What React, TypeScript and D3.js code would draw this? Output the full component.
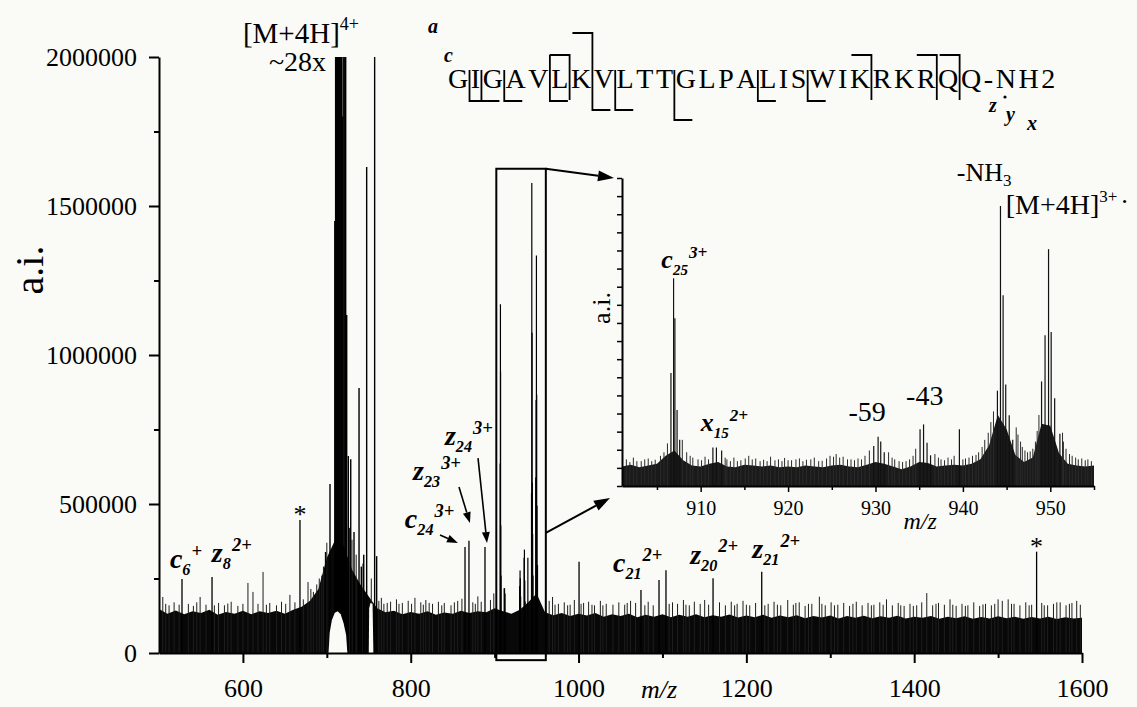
import * as d3 from "d3";
import React, { useEffect, useRef } from "react";

const W = 1137;
const H = 707;
const serif = "'Liberation Serif', 'Times New Roman', Times, serif";

// all intensities below are in thousands of counts (a.i. / 1000)

// solid noise floor of the main spectrum, one value every 10 m/z from 500 to 1600
const noiseFrom = 500;
const noiseStep = 10;
const noiseLevels = [
  148, 132, 143, 130, 140, 134, 145, 128, 138, 132, // 500-590
  142, 130, 140, 134, 142, 132, 145, 155, 175, 215, // 600-690
  320, 380, 360, 280, 230, 190, 150, 137, 142, 130, // 700-790
  138, 132, 140, 128, 136, 132, 142, 134, 140, 137, // 800-890
  150, 140, 132, 145, 170, 200, 137, 127, 134, 124, // 900-990
  132, 126, 134, 122, 130, 124, 132, 120, 128, 122, // 1000-1090
  130, 120, 128, 122, 130, 120, 127, 122, 129, 119, // 1100-1190
  126, 120, 128, 118, 126, 120, 127, 117, 124, 119, // 1200-1290
  126, 116, 124, 118, 125, 117, 123, 118, 125, 116, // 1300-1390
  122, 118, 124, 115, 122, 117, 123, 115, 121, 116, // 1400-1490
  123, 117, 122, 115, 121, 116, 122, 114, 120, 116, // 1500-1590
  118,
];

// small noise spikes sticking out of the floor [m/z, intensity]
const noiseSpikes: [number, number][] = [
  [504.5, 188], [508, 165], [512, 160], [518, 170], [524, 162], [535, 165], [541, 158], [545, 170],
  [549, 188], [556, 162], [566, 160], [571, 168], [578, 160], [582, 166], [586, 172], [594, 158],
  [600, 165], [606, 235], [612, 205], [618, 165], [624, 272], [628, 162], [632, 168], [640, 160],
  [646, 172], [651, 165], [656, 195], [662, 170], [672, 180], [677.6, 238], [681, 215], [684, 205],
  [688, 230], [691, 250], [694, 260], [696, 290], [700, 370], [727, 420], [730, 380], [735, 330],
  [743, 300], [753, 250], [762, 175], [765, 185], [768, 165], [772, 168], [776, 172], [783, 180],
  [786, 165], [790, 168], [797, 175], [801, 165], [805, 185], [812, 170], [815, 162], [818, 178],
  [822, 168], [826, 165], [833, 172], [837, 160], [840, 168], [848, 160], [852, 170], [856, 175],
  [861, 182], [874, 170], [877, 165], [880, 190], [884, 172], [895, 178], [899, 200], [965, 175],
  [969, 188], [972, 162], [976, 165], [983, 170], [987, 160], [990, 162], [995, 178], [1003, 165],
  [1006, 168], [1012, 172], [1016, 162], [1019, 160], [1026, 175], [1029, 160], [1033, 165],
  [1041, 162], [1048, 170], [1055, 162], [1058, 168], [1062, 175], [1068, 168], [1079, 160],
  [1083, 172], [1089, 160], [1108, 165], [1112, 170], [1118, 165], [1125, 178], [1128, 162],
  [1132, 160], [1138, 172], [1145, 165], [1150.3, 178], [1155, 162], [1168, 170], [1175, 160],
  [1182, 172], [1186, 160], [1189, 165], [1196, 175], [1200, 162], [1204, 160], [1211, 168],
  [1222, 160], [1226, 165], [1233, 172], [1237, 162], [1241, 160], [1249.3, 178], [1256, 162],
  [1259, 168], [1263, 170], [1270, 158], [1274, 165], [1278, 165], [1287, 189], [1290, 165],
  [1294, 160], [1301, 170], [1305, 160], [1309, 162], [1316, 168], [1323, 158], [1327, 165],
  [1331, 172], [1338, 160], [1345, 168], [1349, 160], [1352, 162], [1359, 170], [1363, 162],
  [1367, 180], [1374, 160], [1381, 168], [1384, 160], [1388, 158], [1395, 165], [1399, 158],
  [1403, 160], [1409, 170], [1415, 201], [1422, 160], [1426, 165], [1429, 168], [1436, 162],
  [1442.7, 180], [1446, 162], [1450, 158], [1457, 165], [1461, 158], [1464, 160], [1471, 170],
  [1478, 158], [1482, 163], [1485, 165], [1492, 160], [1496, 165], [1500, 180], [1505, 175],
  [1512, 180], [1516, 165], [1519, 165], [1526, 160], [1533, 170], [1537, 160], [1540, 162],
  [1552, 168], [1555, 160], [1559, 160], [1566, 165], [1570, 170], [1574, 170], [1581, 160],
  [1585, 165], [1588, 168], [1593.7, 175], [1598, 162],
];

// fragment and other single peaks [m/z, intensity]
const fragmentPeaks: [number, number][] = [
  [527.4, 248], [563.2, 255], [668, 446], [864.7, 356], [869.4, 377], [888.5, 356],
  [1000.6, 306], [1074.4, 211], [1095.9, 245], [1104.2, 278], [1160.3, 251],
  [1218.3, 273], [1545.9, 340],
];

// [M+4H]4+ region, off-scale values read as 2000 (top of the axis)
const precursorPeaks: [number, number][] = [
  [698.5, 339], [703.8, 567], [709.5, 1450], [710.5, 2000], [711.3, 2000], [712.0, 2000],
  [712.6, 2000], [713.3, 2000], [714.0, 2000], [714.9, 2000], [715.8, 2000], [716.7, 2000],
  [717.5, 2000], [718.4, 1800], [719.4, 2000], [720.5, 2000], [721.5, 2000], [722.5, 2000],
  [723.7, 1134], [725.6, 661], [728.5, 650], [732.4, 406], [738.4, 889], [741.1, 290],
  [744, 330], [747.5, 1631], [757, 2000], [759.4, 325],
];

// empty (white) areas under the precursor cluster [m/z, intensity]
const gapShapes: [number, number][][] = [
  [[702, 0], [703.5, 70], [706, 110], [709.5, 135], [713, 140], [716.5, 130], [720, 100], [723, 60], [724.5, 0]],
  [[750, 0], [750.5, 150], [752, 168], [754.5, 165], [755.5, 0]],
];

// zoomed window m/z 901-955
const insetNoiseFrom = 901;
const insetNoise = [
  110, 120, 105, 115, 125, 170, 200, 145, 115, 110, // 901-910
  125, 135, 110, 105, 120, 115, 110, 115, 105, 110, // 911-920
  105, 115, 110, 105, 115, 120, 110, 105, 120, 135, // 921-930
  125, 110, 95, 110, 135, 130, 110, 115, 120, 115, // 931-940
  125, 150, 230, 400, 320, 175, 135, 160, 350, 340, // 941-950
  185, 125, 115, 110, 115, // 951-955
];

const insetSpikes: [number, number][] = [
  [901.5, 150], [901.9, 135], [902.3, 160], [902.7, 140], [903.2, 140], [903.6, 150], [904, 155],
  [904.4, 140], [904.8, 148], [905.4, 170], [905.8, 190], [906.2, 240], [907.9, 260], [908.4, 190],
  [908.8, 170], [909.1, 160], [909.7, 150], [910.1, 145], [910.5, 165], [910.9, 150], [912.8, 160],
  [913, 150], [913.4, 140], [913.8, 160], [914.2, 140], [914.6, 145], [915.1, 155], [915.5, 170],
  [915.9, 150], [916.3, 155], [916.8, 140], [917.2, 148], [917.6, 140], [918, 165], [918.5, 145],
  [918.9, 150], [919.3, 140], [919.6, 158], [920, 145], [920.4, 145], [920.9, 150], [921.3, 155],
  [921.7, 140], [922.1, 148], [922.6, 150], [923, 160], [923.5, 140], [923.9, 142], [924.4, 155],
  [924.8, 170], [925.2, 165], [925.5, 180], [925.9, 160], [926.3, 165], [926.8, 150], [927.2, 150],
  [927.6, 145], [928, 155], [928.4, 150], [928.8, 170], [929.3, 200], [931.5, 190], [931.9, 160],
  [932.2, 150], [932.7, 140], [933.1, 135], [933.5, 140], [933.9, 150], [934.3, 170], [934.6, 210],
  [936.8, 180], [937.2, 160], [937.5, 150], [937.9, 145], [938.3, 160], [938.7, 150], [939, 170],
  [940, 150], [940.3, 155], [940.7, 160], [941.1, 170], [941.5, 175], [941.8, 190], [942.2, 220],
  [942.5, 260], [942.9, 300], [943.2, 360], [943.5, 420], [946.1, 330], [946.3, 290], [946.6, 250],
  [946.8, 220], [947.1, 200], [947.4, 190], [947.7, 195], [948, 210], [948.3, 250], [948.5, 310],
  [948.7, 400], [951.4, 300], [951.5, 250], [951.8, 210], [952.2, 180], [952.5, 170], [952.9, 160],
  [953.2, 150], [953.6, 155], [954, 145], [954.3, 150], [954.7, 140],
];

// resolved isotope peaks in the zoomed window (also drawn in the full spectrum)
const insetPeaks: [number, number][] = [
  [906.6, 636], [906.9, 1170], [907.05, 945], [907.3, 428], [907.6, 260],
  [911.4, 217], [911.8, 217], [912.4, 200],
  [929.8, 225], [930.3, 277], [930.6, 251], [931.0, 190],
  [935.1, 320], [935.5, 347], [935.9, 243], [936.3, 173],
  [939.6, 320],
  [943.95, 537], [944.3, 1577], [944.6, 1075], [944.9, 572], [945.3, 399], [945.7, 260],
  [949.0, 589], [949.4, 849], [949.8, 1334], [950.1, 867], [950.5, 494], [951.1, 295],
];

const yTickMajor = [0, 500, 1000, 1500, 2000];
const yTickMinor = [250, 750, 1250, 1750];
const xTickMajor = [600, 800, 1000, 1200, 1400, 1600];
const xTickMinor = [700, 900, 1100, 1300, 1500];
const insetXMajor = [910, 920, 930, 940, 950];
const insetXMinor = [905, 915, 925, 935, 945, 955];
const insetYTop = 1735;
const insetYTickCount = 17;

// zoom box drawn on the full spectrum [m/z], [intensity]
const zoomBoxMz = [902, 961];
const zoomBoxInt = [-24, 1625];

// peptide sequence with fragment cleavages
const sequence = "GIGAVLKVLTTGLPALISWIKRKRQQ-NH2";
const glyphW: Record<string, number> = {
  G: 0.722, I: 0.333, A: 0.722, V: 0.722, L: 0.611, K: 0.722, T: 0.611, P: 0.556, S: 0.556,
  W: 0.944, R: 0.667, Q: 0.722, "-": 0.333, N: 0.722, H: 0.722, "2": 0.5,
};
// N-terminal cleavages (after residue n): bracket above
const nTermMarks: [number, string][] = [[6, "c"], [7, "a"], [21, "c"], [24, "c"], [25, "c"]];
// C-terminal cleavages: bracket below
const cTermMarks: [number, string][] = [
  [1, "z"], [2, "z"], [3, "z"], [5, "z"], [7, "y"], [8, "y"], [11, "x"], [15, "z"], [18, "z"],
];

type Ion = { base: string; sub: string; sup: string; mz: number; at: number };
const mainIons: Ion[] = [
  { base: "c", sub: "6", sup: "+", mz: 513, at: 285 },
  { base: "z", sub: "8", sup: "2+", mz: 563, at: 305 },
  { base: "c", sub: "24", sup: "3+", mz: 793, at: 419 },
  { base: "z", sub: "23", sup: "3+", mz: 802.7, at: 580 },
  { base: "z", sub: "24", sup: "3+", mz: 840.8, at: 698 },
  { base: "c", sub: "21", sup: "2+", mz: 1041, at: 272 },
  { base: "z", sub: "20", sup: "2+", mz: 1133, at: 300 },
  { base: "z", sub: "21", sup: "2+", mz: 1207, at: 318 },
];
const insetIons: Ion[] = [
  { base: "c", sub: "25", sup: "3+", mz: 905.5, at: 1227 },
  { base: "x", sub: "15", sup: "2+", mz: 910.0, at: 309 },
];
// label arrows [from m/z, from int, to m/z, to int]
const ionArrows: [number, number, number, number][] = [
  [834.9, 396, 856.3, 369],
  [857.5, 557, 870.6, 436],
  [880.2, 654, 890.9, 369],
];
const starPeaks = [668, 1545.9];

export default function App() {
  const svgRef = useRef<SVGSVGElement>(null);

  useEffect(() => {
    const svg = d3.select(svgRef.current);
    svg.selectAll("*").remove();

    svg.append("rect").attr("width", W).attr("height", H).attr("fill", "#fafaf6");

    const x = d3.scaleLinear().domain([500, 1600]).range([159, 1082]);
    const y = d3.scaleLinear().domain([0, 2000]).range([653, 57]);
    const yc = (v: number) => y(Math.min(v, 2000));
    const ix = d3.scaleLinear().domain([901, 955]).range([622, 1094]);
    const iy = d3.scaleLinear().domain([0, insetYTop]).range([486, 178]);

    const sticks = (data: [number, number][], sx: any, sy: any, color: string, w: number) => {
      svg.append("g")
        .selectAll("line")
        .data(data)
        .enter()
        .append("line")
        .attr("x1", (d) => sx(d[0]))
        .attr("x2", (d) => sx(d[0]))
        .attr("y1", sy(0))
        .attr("y2", (d) => sy(d[1]))
        .attr("stroke", color)
        .attr("stroke-width", w);
    };

    const arrow = (x1: number, y1: number, x2: number, y2: number, len: number, wid: number, sw: number) => {
      const a = Math.atan2(y2 - y1, x2 - x1);
      const bx = x2 - len * Math.cos(a);
      const by = y2 - len * Math.sin(a);
      svg.append("line")
        .attr("x1", x1).attr("y1", y1).attr("x2", bx).attr("y2", by)
        .attr("stroke", "#000").attr("stroke-width", sw);
      const px = (wid / 2) * Math.sin(a);
      const py = (wid / 2) * Math.cos(a);
      svg.append("path")
        .attr("d", `M${x2},${y2}L${bx + px},${by - py}L${bx - px},${by + py}Z`)
        .attr("fill", "#000");
    };

    const ionLabel = (ion: Ion, px: number, py: number, fs: number) => {
      const t = svg.append("text")
        .attr("x", px).attr("y", py)
        .attr("font-family", serif).attr("font-style", "italic").attr("font-weight", "bold")
        .attr("font-size", fs).attr("fill", "#000");
      t.append("tspan").text(ion.base);
      t.append("tspan").attr("dy", fs * 0.25).attr("font-size", fs * 0.58).text(ion.sub);
      t.append("tspan").attr("dy", -fs * 0.65).attr("dx", 1).attr("font-size", fs * 0.66).text(ion.sup);
    };

    // ---- main spectrum ----
    const noisePts = noiseLevels.map((v, i) => [noiseFrom + i * noiseStep, v] as [number, number]);
    svg.append("path")
      .datum(noisePts)
      .attr("d", d3.area<[number, number]>().x((d) => x(d[0])).y0(y(0)).y1((d) => y(d[1])))
      .attr("fill", "#080808");

    sticks(noiseSpikes, x, y, "#1e1e1e", 1);
    sticks(insetPeaks, x, y, "#000", 1.2);
    sticks(fragmentPeaks, x, y, "#000", 1.3);
    sticks(precursorPeaks, x, yc, "#000", 1.4);

    gapShapes.forEach((shape) => {
      svg.append("path")
        .datum(shape)
        .attr("d", d3.line<[number, number]>().x((d) => x(d[0])).y((d) => y(d[1])))
        .attr("fill", "#fafaf6");
    });

    // axes
    const styleAxis = (g: any, fs: number) => {
      g.select(".domain").attr("stroke", "#000").attr("stroke-width", 2);
      g.selectAll(".tick line").attr("stroke", "#000").attr("stroke-width", 2);
      g.selectAll(".tick text").attr("font-family", serif).attr("font-size", fs).attr("fill", "#000");
    };

    const yAxis = svg.append("g").attr("transform", "translate(159,0)")
      .call(d3.axisLeft(y).tickValues(yTickMajor).tickFormat((d) => String(+d * 1000)).tickSize(10).tickSizeOuter(0).tickPadding(12));
    styleAxis(yAxis, 26);
    const yMinor = svg.append("g").attr("transform", "translate(159,0)")
      .call(d3.axisLeft(y).tickValues(yTickMinor).tickFormat(() => "").tickSize(5).tickSizeOuter(0));
    styleAxis(yMinor, 26);
    yMinor.select(".domain").remove();

    const xAxis = svg.append("g").attr("transform", `translate(0,${y(0)})`)
      .call(d3.axisBottom(x).tickValues(xTickMajor).tickFormat(d3.format("d")).tickSize(10).tickSizeOuter(0).tickPadding(16));
    styleAxis(xAxis, 26);
    const xMinor = svg.append("g").attr("transform", `translate(0,${y(0)})`)
      .call(d3.axisBottom(x).tickValues(xTickMinor).tickFormat(() => "").tickSize(5).tickSizeOuter(0));
    styleAxis(xMinor, 26);
    xMinor.select(".domain").remove();

    svg.append("text")
      .attr("transform", `translate(43,270) rotate(-90)`)
      .attr("text-anchor", "middle")
      .attr("font-family", serif).attr("font-size", 40).text("a.i.");
    svg.append("text")
      .attr("x", 641).attr("y", 698)
      .attr("font-family", serif).attr("font-style", "italic").attr("font-size", 26).text("m/z");

    // zoom box and arrows to the inset
    svg.append("rect")
      .attr("x", x(zoomBoxMz[0])).attr("y", y(zoomBoxInt[1]))
      .attr("width", x(zoomBoxMz[1]) - x(zoomBoxMz[0]))
      .attr("height", y(zoomBoxInt[0]) - y(zoomBoxInt[1]))
      .attr("fill", "none").attr("stroke", "#000").attr("stroke-width", 2);
    arrow(x(zoomBoxMz[1]), y(zoomBoxInt[1]), ix(901) - 8, iy(insetYTop), 16, 11, 2);
    arrow(x(zoomBoxMz[1]), y(403), ix(901) - 12, iy(0) + 12, 16, 11, 2);

    // precursor labels
    const pre = svg.append("text").attr("x", x(600)).attr("y", y(2047))
      .attr("font-family", serif).attr("font-size", 29);
    pre.append("tspan").text("[M+4H]");
    pre.append("tspan").attr("dy", -13).attr("font-size", 18).text("4+");
    svg.append("text").attr("x", x(631)).attr("y", y(1953))
      .attr("font-family", serif).attr("font-size", 28).text("~28x");

    starPeaks.forEach((mz) => {
      const p = fragmentPeaks.find((d) => d[0] === mz)!;
      svg.append("text").attr("x", x(mz)).attr("y", y(p[1]) + 3)
        .attr("text-anchor", "middle").attr("font-family", serif).attr("font-size", 26).text("*");
    });

    mainIons.forEach((ion) => ionLabel(ion, x(ion.mz), y(ion.at), 28));
    ionArrows.forEach((a) => arrow(x(a[0]), y(a[1]), x(a[2]), y(a[3]), 11, 8, 1.6));

    // ---- inset ----
    const insetPts = insetNoise.map((v, i) => [insetNoiseFrom + i, v] as [number, number]);
    svg.append("path")
      .datum(insetPts)
      .attr("d", d3.area<[number, number]>().x((d) => ix(d[0])).y0(iy(0)).y1((d) => iy(d[1])))
      .attr("fill", "#1a1a1a");
    sticks(insetSpikes, ix, iy, "#2a2a2a", 1);
    sticks(insetPeaks, ix, iy, "#111", 1.2);

    const insetTicks = d3.range(0, insetYTickCount + 1).map((i) => (insetYTop * i) / insetYTickCount);
    const iyAxis = svg.append("g").attr("transform", `translate(${ix(901)},0)`)
      .call(d3.axisLeft(iy).tickValues(insetTicks).tickFormat(() => "").tickSize(5).tickSizeOuter(0));
    styleAxis(iyAxis, 20);
    iyAxis.selectAll(".tick line").attr("stroke-width", 1.5);

    const ixAxis = svg.append("g").attr("transform", `translate(0,${iy(0)})`)
      .call(d3.axisBottom(ix).tickValues(insetXMajor).tickSize(6).tickSizeOuter(0).tickPadding(9));
    styleAxis(ixAxis, 20);
    ixAxis.selectAll(".tick line").attr("stroke-width", 1.5);
    const ixMinor = svg.append("g").attr("transform", `translate(0,${iy(0)})`)
      .call(d3.axisBottom(ix).tickValues(insetXMinor).tickFormat(() => "").tickSize(4).tickSizeOuter(0));
    styleAxis(ixMinor, 20);
    ixMinor.select(".domain").remove();
    ixMinor.selectAll(".tick line").attr("stroke-width", 1.5);

    svg.append("text")
      .attr("transform", `translate(610,308) rotate(-90)`)
      .attr("text-anchor", "middle")
      .attr("font-family", serif).attr("font-size", 26).text("a.i.");
    svg.append("text").attr("x", ix(933.2)).attr("y", iy(-242))
      .attr("font-family", serif).attr("font-style", "italic").attr("font-size", 24).text("m/z");

    insetIons.forEach((ion) => ionLabel(ion, ix(ion.mz), iy(ion.at), 26));
    [["-59", 926.9, 366], ["-43", 933.5, 456]].forEach(([s, mz, at]) => {
      svg.append("text").attr("x", ix(+mz)).attr("y", iy(+at))
        .attr("font-family", serif).attr("font-size", 28).text(String(s));
    });
    const nh3 = svg.append("text").attr("x", ix(939.3)).attr("y", iy(1716))
      .attr("font-family", serif).attr("font-size", 26);
    nh3.append("tspan").text("-NH");
    nh3.append("tspan").attr("dy", 5).attr("font-size", 17).text("3");
    const m3 = svg.append("text").attr("x", ix(944.9)).attr("y", iy(1530))
      .attr("font-family", serif).attr("font-size", 28);
    m3.append("tspan").text("[M+4H]");
    m3.append("tspan").attr("dy", -12).attr("font-size", 17).text("3+");
    m3.append("tspan").attr("dy", 8).attr("dx", 3).attr("font-size", 26).text("·");

    // ---- sequence with cleavage brackets ----
    const seqX0 = 448;
    const seqBase = 88;
    const seqFs = 28;
    const gap = 2.6;
    const charX: number[] = [];
    let cx = seqX0;
    sequence.split("").forEach((ch) => {
      charX.push(cx);
      cx += glyphW[ch] * seqFs + gap;
    });
    const seqG = svg.append("g");
    sequence.split("").forEach((ch, i) => {
      seqG.append("text").attr("x", charX[i]).attr("y", seqBase)
        .attr("font-family", serif).attr("font-size", seqFs).text(ch);
    });
    const boundary = (n: number) => charX[n] - gap / 2;
    const levelY: Record<string, number> = { a: 33, c: 55, z: 101, y: 110, x: 120 };
    const bracket = d3.path();
    nTermMarks.forEach(([n, lv]) => {
      const bx = boundary(n);
      bracket.moveTo(bx - 20, levelY[lv]);
      bracket.lineTo(bx, levelY[lv]);
      bracket.lineTo(bx, 100);
    });
    cTermMarks.forEach(([n, lv]) => {
      const bx = boundary(n);
      bracket.moveTo(bx, n === 5 ? 55 : 70);
      bracket.lineTo(bx, levelY[lv]);
      bracket.lineTo(bx + 18, levelY[lv]);
    });
    svg.append("path").attr("d", bracket.toString())
      .attr("fill", "none").attr("stroke", "#000").attr("stroke-width", 1.8);

    const lvLabel = (s: string, px: number, py: number) =>
      svg.append("text").attr("x", px).attr("y", py)
        .attr("font-family", serif).attr("font-style", "italic").attr("font-weight", "bold")
        .attr("font-size", 20).text(s);
    lvLabel("a", 428, 33);
    lvLabel("c", 444, 62);
    lvLabel("z", 989, 112);
    svg.append("circle").attr("cx", 1005).attr("cy", 97).attr("r", 1.6).attr("fill", "#000");
    lvLabel("y", 1006, 121);
    lvLabel("x", 1027, 130);
  }, []);

  return (
    <div style={{ position: "absolute", left: 0, top: 0 }}>
      <svg ref={svgRef} width={W} height={H} />
    </div>
  );
}
